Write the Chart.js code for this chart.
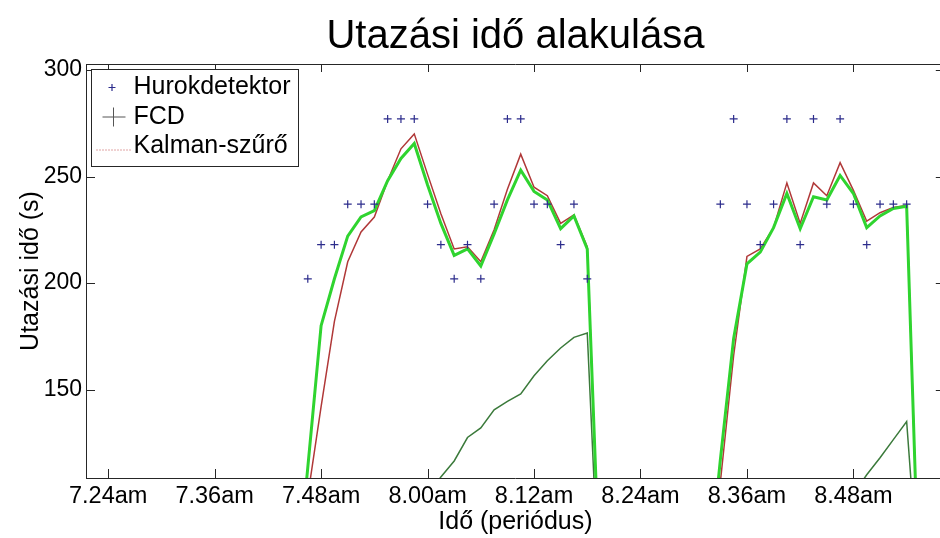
<!DOCTYPE html>
<html>
<head>
<meta charset="utf-8">
<script src="https://cdn.jsdelivr.net/npm/chart.js@4.4.0/dist/chart.umd.min.js"></script>
<style>
  html, body { margin: 0; padding: 0; background: #fff; overflow: hidden; }
  #wrap { width: 940px; height: 538px; overflow: hidden; }
</style>
</head>
<body>
<div id="wrap"><canvas id="chartIdo" width="950" height="538"></canvas></div>
<script>
// idő percben, 7:00-tól számolva
const tickErtekek = [24, 36, 48, 60, 72, 84, 96, 108];
const tickCimkek = ['7.24am', '7.36am', '7.48am', '8.00am', '8.12am', '8.24am', '8.36am', '8.48am'];
const yTickek = [150, 200, 250, 300];

// Hurokdetektor mérések
const hurokIdo = [46.5, 48, 49.5, 51, 52.5, 54, 55.5, 57, 58.5, 60, 61.5, 63, 64.5, 66, 67.5, 69, 70.5, 72, 73.5, 75, 76.5, 78,
                  93, 94.5, 96, 97.5, 99, 100.5, 102, 103.5, 105, 106.5, 108, 109.5, 111, 112.5, 114];
const hurokErtek = [202, 218, 218, 237, 237, 237, 277, 277, 277, 237, 218, 202, 218, 202, 237, 277, 277, 237, 237, 218, 237, 202,
                    237, 277, 237, 218, 237, 277, 218, 277, 237, 277, 237, 218, 237, 237, 237];

// vonalak időpontjai (két szakasz)
const vonalIdoA = [45, 46.5, 48, 49.5, 51, 52.5, 54, 55.5, 57, 58.5, 60, 61.5, 63, 64.5, 66, 67.5, 69, 70.5, 72, 73.5, 75, 76.5, 78, 79.5];
const vonalIdoB = [91.5, 93, 94.5, 96, 97.5, 99, 100.5, 102, 103.5, 105, 106.5, 108, 109.5, 111, 112.5, 114, 115.5];

const pirosA = [55, 100, 142, 182, 210, 224, 231, 248, 263, 270, 251, 232.5, 216, 217, 210, 225, 244, 260.5, 245, 241, 228, 232, 217, 48];
const pirosB = [45, 106.5, 166, 212.5, 216, 226, 247, 228, 247, 241, 256.5, 243.5, 229, 233, 235.5, 236.5, 40];

const zoldA = [47, 113.5, 180, 202, 222, 231, 234, 248, 258.5, 265.5, 246, 228, 213, 216, 208, 223, 239, 253, 243, 239, 225.5, 231.5, 216, 50];
const zoldB = [55, 117, 174, 209, 214.5, 226, 242, 225.5, 240.5, 239, 250.5, 242, 226, 231.5, 235, 236, 40];

const sotetIdoA = [60, 61.5, 63, 64.5, 66, 67.5, 69, 70.5, 72, 73.5, 75, 76.5, 78, 79.5];
const sotetA = [100, 109, 116.5, 127.5, 132, 140.5, 144.5, 148, 156.5, 163.5, 169.5, 174.5, 176.5, 40];
const sotetIdoB = [108, 109.5, 111, 112.5, 114, 115.5];
const sotetB = [101, 110, 118, 126.5, 135, 50];

const betu = 'Liberation Sans, Arial, sans-serif';

function pontok(xs, ys) {
  return xs.map((x, i) => ({ x: x, y: ys[i] }));
}
function ketSzakasz(xa, ya, xb, yb) {
  return [...pontok(xa, ya), { x: 85, y: null }, ...pontok(xb, yb)];
}

// befelé mutató tickek + felső keret
const befeleTickek = {
  id: 'befeleTickek',
  afterDraw(chart) {
    const { ctx, chartArea: a, scales: { x, y } } = chart;
    ctx.save();
    ctx.strokeStyle = '#262626';
    ctx.lineWidth = 1;
    ctx.beginPath();
    ctx.moveTo(a.left, a.top + 0.5);
    ctx.lineTo(a.right, a.top + 0.5);
    x.ticks.forEach(t => {
      const px = Math.round(x.getPixelForValue(t.value)) + 0.5;
      ctx.moveTo(px, a.bottom); ctx.lineTo(px, a.bottom - 9);
      ctx.moveTo(px, a.top); ctx.lineTo(px, a.top + 8);
    });
    y.ticks.forEach(t => {
      const py = Math.round(y.getPixelForValue(t.value)) + 0.5;
      ctx.moveTo(a.left, py); ctx.lineTo(a.left + 9, py);
      ctx.moveTo(a.right, py); ctx.lineTo(a.right - 9, py);
    });
    ctx.stroke();
    ctx.restore();
  }
};

// jelmagyarázat a rajzterület bal felső sarkában
const jelmagyarazat = {
  id: 'jelmagyarazat',
  afterDraw(chart) {
    const { ctx, chartArea: a } = chart;
    const bx = a.left + 5.5, by = a.top + 5.5, w = 207, h = 97;
    ctx.save();
    ctx.fillStyle = '#fff';
    ctx.fillRect(bx, by, w, h);
    ctx.strokeStyle = '#262626';
    ctx.lineWidth = 1;
    ctx.strokeRect(bx, by, w, h);

    // Hurokdetektor: kis kék kereszt
    ctx.strokeStyle = '#2c2c8c';
    ctx.lineWidth = 1.2;
    ctx.beginPath();
    ctx.moveTo(bx + 17, by + 18); ctx.lineTo(bx + 24, by + 18);
    ctx.moveTo(bx + 20.5, by + 14.5); ctx.lineTo(bx + 20.5, by + 21.5);
    ctx.stroke();

    // FCD: szürke vonal nagy kereszttel
    ctx.strokeStyle = '#555';
    ctx.lineWidth = 1;
    ctx.beginPath();
    ctx.moveTo(bx + 11, by + 47.5); ctx.lineTo(bx + 34, by + 47.5);
    ctx.moveTo(bx + 22, by + 38); ctx.lineTo(bx + 22, by + 57);
    ctx.stroke();

    // Kalman-szűrő: piros pontozott vonal
    ctx.strokeStyle = '#c04848';
    ctx.setLineDash([1, 2]);
    ctx.beginPath();
    ctx.moveTo(bx + 5, by + 80.5); ctx.lineTo(bx + 39, by + 80.5);
    ctx.stroke();
    ctx.setLineDash([]);

    ctx.fillStyle = '#000';
    ctx.font = '25px ' + betu;
    ctx.textBaseline = 'middle';
    ctx.fillText('Hurokdetektor', bx + 42, by + 18);
    ctx.fillText('FCD', bx + 42, by + 47.5);
    ctx.fillText('Kalman-szűrő', bx + 42, by + 77);
    ctx.restore();
  }
};

new Chart(document.getElementById('chartIdo'), {
  type: 'line',
  data: {
    datasets: [
      {
        label: 'Hurokdetektor',
        data: pontok(hurokIdo, hurokErtek),
        showLine: false,
        pointStyle: 'cross',
        pointRadius: 4,
        pointBorderColor: '#2c2c8c',
        pointBorderWidth: 1.2,
        borderColor: '#2c2c8c'
      },
      {
        label: 'zöld',
        data: ketSzakasz(vonalIdoA, zoldA, vonalIdoB, zoldB),
        borderColor: '#2fd42f',
        borderWidth: 3,
        pointRadius: 0,
        tension: 0,
        spanGaps: false
      },
      {
        label: 'sötétzöld',
        data: ketSzakasz(sotetIdoA, sotetA, sotetIdoB, sotetB),
        borderColor: '#3b7a3b',
        borderWidth: 1.5,
        pointRadius: 0,
        tension: 0,
        spanGaps: false
      },
      {
        label: 'Kalman-szűrő',
        data: ketSzakasz(vonalIdoA, pirosA, vonalIdoB, pirosB),
        borderColor: '#b03838',
        borderWidth: 1.5,
        pointRadius: 0,
        tension: 0,
        spanGaps: false
      }
    ]
  },
  options: {
    responsive: false,
    animation: false,
    layout: { padding: { left: 0, right: 4, top: 0, bottom: 0 } },
    plugins: {
      legend: { display: false },
      tooltip: { enabled: false },
      title: {
        display: true,
        fullSize: false,
        text: 'Utazási idő alakulása',
        color: '#000',
        font: { family: betu, size: 40, weight: 'normal' },
        padding: { top: 13, bottom: 3 }
      }
    },
    scales: {
      x: {
        type: 'linear',
        min: 21.5,
        max: 118.3,
        afterBuildTicks: s => { s.ticks = tickErtekek.map(v => ({ value: v })); },
        afterFit: s => { s.height = 60; },
        ticks: {
          callback: v => tickCimkek[tickErtekek.indexOf(v)],
          color: '#000',
          font: { family: betu, size: 23.5 },
          padding: 4,
          maxRotation: 0,
          autoSkip: false
        },
        grid: { display: false, drawTicks: false, tickLength: 0 },
        border: { display: true, color: '#262626', width: 1 },
        title: {
          display: true,
          text: 'Idő (periódus)',
          color: '#000',
          font: { family: betu, size: 25 },
          padding: { top: 1, bottom: 1 }
        }
      },
      y: {
        min: 108.5,
        max: 302.8,
        afterBuildTicks: s => { s.ticks = yTickek.map(v => ({ value: v })); },
        afterFit: s => { s.width = 86; },
        ticks: {
          color: '#000',
          font: { family: betu, size: 23 },
          padding: 4
        },
        grid: { display: false, drawTicks: false, tickLength: 0 },
        border: { display: true, color: '#262626', width: 1 },
        title: {
          display: true,
          text: 'Utazási idő (s)',
          color: '#000',
          font: { family: betu, size: 25 },
          padding: { top: 16, bottom: 16 }
        }
      }
    }
  },
  plugins: [befeleTickek, jelmagyarazat]
});
</script>
</body>
</html>
